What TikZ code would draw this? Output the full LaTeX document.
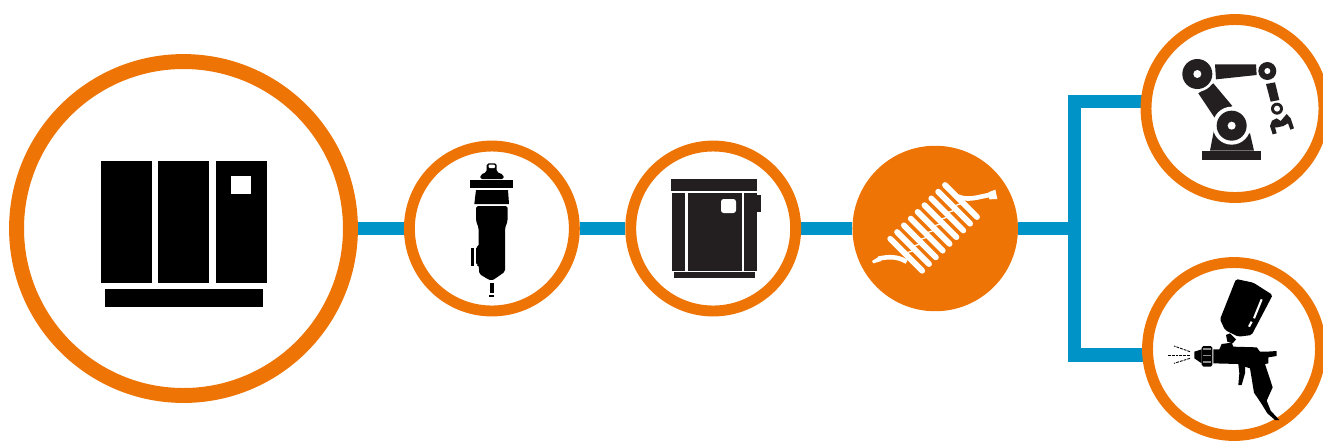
\documentclass[tikz,border=0pt]{standalone}
\usepackage{tikz}
\usepackage{xcolor}
\usetikzlibrary{positioning, backgrounds}
\definecolor{ringorange}{RGB}{238,117,5}
\definecolor{pipeblue}{RGB}{0,147,199}
\definecolor{iconblack}{RGB}{35,31,32}

\begin{document}
\begin{tikzpicture}[x=0.02cm, y=-0.02cm,
    ring/.style={circle, draw=ringorange, fill=white, line width=6.2pt, inner sep=0pt},
    pipe/.style={draw=pipeblue, line width=7.5pt},
    coil/.style={white, line width=3.3pt, line cap=round},
    zoomed/.style={shift={#1}, scale=1/3}]
    \useasboundingbox (0,0) rectangle (1323,441);

    % the line of stations
    \node[ring, line width=8.5pt, minimum size=6.68cm] (compressor) at (183.5,228.5) {};
    \node[ring, minimum size=3.3cm, right=0.92cm of compressor] (filter) {};
    \node[ring, minimum size=3.3cm, right=0.91cm of filter] (dryer) {};
    \node[circle, fill=ringorange, inner sep=0pt, minimum size=3.31cm, right=1.02cm of dryer] (hose) {};
    \node[ring, minimum size=3.56cm] (robot) at (1235,108.5) {};
    \node[ring, minimum size=3.46cm] (gun) at (1234,349) {};

    \coordinate (junction) at (1074.5,228.5);
    \coordinate (robotin) at (1150,101.7);
    \coordinate (gunin) at (1150,355);

    % pipes
    \begin{scope}[on background layer]
      \draw[pipe] (compressor) -- (filter);
      \draw[pipe] (filter) -- (dryer);
      \draw[pipe] (dryer) -- (hose);
      \draw[pipe] (hose) -- (junction);
      \draw[pipe, line join=miter] (junction) |- (robotin);
      \draw[pipe, line join=miter] (junction) |- (gunin);
    \end{scope}

    % compressor
    \fill[black] (101,161) rectangle (152,283);
    \fill[black] (158,161) rectangle (209,283);
    \fill[black] (216,161) rectangle (267,283);
    \fill[white] (231,176) rectangle (251,194);
    \fill[black] (105,289) rectangle (263,307);

    % filter
    \begin{scope}[zoomed={(440,150)}]
      \fill[black, rounded corners=1pt] (120,87) -- (122,74) -- (140,66) -- (140,40) -- (170,40) -- (170,66) -- (190,74) -- (192,87) -- cycle;
      \fill[white, rounded corners=0.5pt] (146,44) rectangle (165,54);
      \fill[black] (90,90) rectangle (218,115);
      \fill[black] (108,120) -- (204,120) -- (207,162) -- (103,162) -- cycle;
      \fill[black, rounded corners=1pt] (108,168) -- (203,168) -- (203,212) -- (195,235) -- (195,365) -- (165,386) -- (155,392) -- (145,388) -- (118,372) -- (116,345) -- (108,345) -- (108,290) -- (116,290) -- (116,235) -- (108,212) -- cycle;
      \fill[black] (93,293) rectangle (103,348);
      \fill[black] (150,398) rectangle (162,428);
      \fill[black] (147,435) rectangle (162,440);
    \end{scope}

    % dryer
    \fill[iconblack] (671,179) rectangle (757,191);
    \fill[iconblack] (672,193) rectangle (685,271);
    \fill[iconblack] (688,193) rectangle (742,271);
    \fill[iconblack] (744,193) rectangle (757,271);
    \fill[iconblack] (757,195) rectangle (761,212);
    \fill[iconblack] (674,272) rectangle (755,278);
    \fill[white, rounded corners=1.5pt] (721,199) rectangle (736,213);

    % hose
    \foreach \i in {0,...,8}
      \draw[coil] ({945-6.85*\i},{185+6.72*\i}) -- ++(32,32);
    \foreach \i in {0,...,7}
      \draw[white, line width=0.7pt] ({963-6.85*\i},{203+6.72*\i}) -- ++(-10.5,3.5);
    \begin{scope}[zoomed={(860,160)}]
      \draw[white, line width=2.6pt] (295,110) .. controls (325,122) and (350,112) .. (388,105);
      \fill[white] (385,97) -- (406,89) -- (412,117) -- (388,118) -- cycle;
      \draw[white, line width=2.6pt] (140,305) .. controls (110,288) and (85,290) .. (55,296);
      \fill[white] (36,303) -- (60,288) -- (64,303) -- (40,310) -- cycle;
    \end{scope}

    % robot
    \begin{scope}[zoomed={(1160,40)}]
      \fill[iconblack] (127,332) rectangle (303,360);
      \fill[iconblack] (162,270) -- (150,332) -- (282,332) -- (270,280) -- cycle;
      \fill[iconblack] (165,73) -- (288,73) -- (290,105) -- (168,118) -- cycle;
      \fill[iconblack] (115,160) -- (160,130) -- (217,198) -- (165,235) -- cycle;
      \fill[white] (112,102) circle (53);
      \fill[iconblack] (112,102) circle (45);
      \fill[white] (112,102) circle (12);
      \fill[white] (215,257) circle (57);
      \fill[iconblack] (215,257) circle (45);
      \fill[white] (215,257) circle (12);
      \fill[iconblack] (322,93) circle (27);
      \fill[white] (322,93) circle (9);
      \fill[iconblack] (318,132) -- (345,127) -- (358,180) -- (332,185) -- cycle;
      \fill[iconblack] (351,206) circle (18);
      \fill[white] (351,206) circle (9);
      \fill[iconblack] (338,283) -- (330,258) -- (336,242) -- (350,235) -- (362,243) -- (368,236) -- (380,222) -- (392,235) -- (402,265) -- (391,269) -- (384,250) -- (370,258) -- (352,262) -- (345,262) -- (350,280) -- cycle;
    \end{scope}

    % spray gun
    \begin{scope}[zoomed={(1150,270)}]
      \fill[black, rounded corners=1pt] (258,27) -- (310,38) -- (368,75) -- (305,195) -- (265,200) -- (225,180) -- (210,148) -- cycle;
      \draw[white, line width=1.2pt] (335,88) -- (312,145);
      \draw[white, line width=1.2pt] (305,155) -- (297,170);
      \fill[black] (228,195) -- (240,190) -- (258,208) -- (248,220) -- (232,215) -- cycle;
      \fill[black] (133,245) -- (155,238) -- (155,280) -- (133,265) -- cycle;
      \fill[black, rounded corners=1pt] (155,228) rectangle (187,290);
      \fill[black!45] (160,235) rectangle (182,241);
      \fill[black!45] (160,255) rectangle (182,258);
      \fill[black!45] (160,273) rectangle (182,279);
      \fill[black] (190,238) -- (208,238) -- (215,222) -- (245,218) -- (250,230) -- (320,232) -- (330,245) -- (350,245) -- (380,243) -- (380,258) -- (355,262) -- (355,280) -- (345,282) -- (368,352) -- (350,392) -- (362,422) -- (388,450) -- (375,450) -- (352,430) -- (335,402) -- (312,368) -- (300,295) -- (285,290) -- (285,310) -- (275,345) -- (265,345) -- (268,310) -- (265,282) -- (190,280) -- cycle;
      \draw[black, line width=0.5pt, dash pattern=on 1.6pt off 0.6pt] (120,245) -- (72,228);
      \draw[black, line width=0.5pt, dash pattern=on 1.6pt off 0.6pt] (120,255) -- (55,255);
      \draw[black, line width=0.5pt, dash pattern=on 1.6pt off 0.6pt] (120,265) -- (72,280);
    \end{scope}
\end{tikzpicture}
\end{document}
